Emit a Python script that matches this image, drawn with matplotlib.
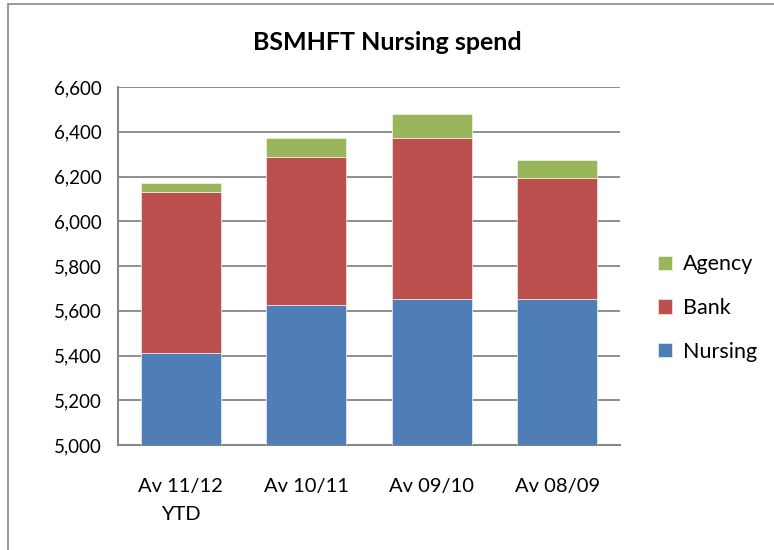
import numpy as np
import matplotlib
matplotlib.use('Agg')
import matplotlib.pyplot as plt
from matplotlib.patches import Rectangle

# ─── Data ───
categories = ['Av 11/12\nYTD', 'Av 10/11', 'Av 09/10', 'Av 08/09']
nursing = [5412, 5626, 5652, 5652]
bank = [719, 663, 718, 543]      # bank top minus nursing
agency = [40, 84, 108, 79]       # agency top minus bank top

C_NURSING = '#4f7eb7'
C_BANK = '#bb504e'
C_AGENCY = '#9ab65c'
GRID = '#868686'

plt.rcParams['font.family'] = ['Lato', 'DejaVu Sans']

fig = plt.figure(figsize=(7.74, 5.5), dpi=100)
ax = fig.add_axes([118 / 774, 1 - 445 / 550, (620 - 118) / 774, (445 - 87) / 550])

x = np.arange(len(categories))
w = 0.64
bottom_bank = np.array(nursing)
bottom_agency = bottom_bank + np.array(bank)
ax.bar(x, nursing, w, color=C_NURSING, edgecolor='#dfe7f2', linewidth=0.6, label='Nursing', zorder=3)
ax.bar(x, bank, w, bottom=bottom_bank, color=C_BANK, edgecolor='#f2dcdb', linewidth=0.6, label='Bank', zorder=3)
ax.bar(x, agency, w, bottom=bottom_agency, color=C_AGENCY, edgecolor='#ebf1de', linewidth=0.6, label='Agency', zorder=3)

ax.set_ylim(5000, 6600)
ax.set_xlim(-0.5, len(categories) - 0.5)
ax.set_yticks(np.arange(5000, 6601, 200))
ax.yaxis.set_major_formatter(matplotlib.ticker.FuncFormatter(lambda v, p: f'{v:,.0f}'))
ax.set_xticks(x)
ax.set_xticklabels(categories, fontsize=14.5, linespacing=1.75)
ax.tick_params(axis='y', labelsize=13.5, length=0, pad=12)
ax.tick_params(axis='x', length=0, pad=24)
ax.grid(axis='y', color=GRID, linewidth=1.3, zorder=0)
for s in ['top', 'right']:
    ax.spines[s].set_visible(False)
for s in ['left', 'bottom']:
    ax.spines[s].set_color(GRID)
    ax.spines[s].set_linewidth(1.5)

fig.text(0.5, 1 - 42 / 550, 'BSMHFT Nursing spend', ha='center', va='center',
         fontsize=18, fontweight='bold')

handles, labels = ax.get_legend_handles_labels()
fig.legend(handles[::-1], labels[::-1], loc='center left',
           bbox_to_anchor=(639 / 774, 1 - 308 / 550), frameon=False,
           fontsize=15.5, handlelength=0.65, handleheight=0.65,
           labelspacing=1.1, handletextpad=0.5)

# chart area border
fig.patches.append(Rectangle((8 / 774, -0.1), 1.1, 1 - 4 / 550 + 0.1,
                             transform=fig.transFigure, fill=False,
                             edgecolor=GRID, linewidth=1.2))

fig.savefig('out.png', dpi=100)
